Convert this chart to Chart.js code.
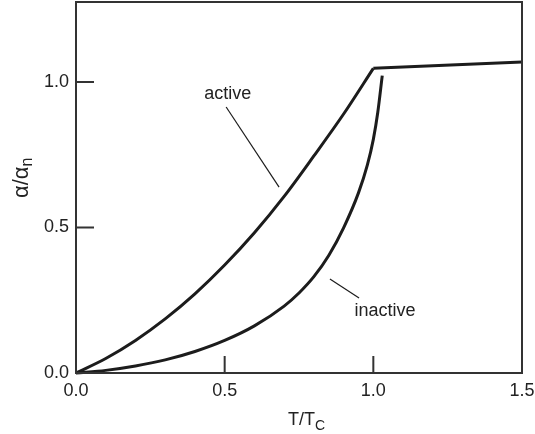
<!DOCTYPE html>
<html>
<head>
<meta charset="utf-8">
<script src="https://cdn.jsdelivr.net/npm/chart.js@4/dist/chart.umd.min.js"></script>
<style>
  html, body { margin: 0; padding: 0; background: #fff; }
  #wrap { position: relative; width: 535px; height: 434px; }
</style>
</head>
<body>
<div id="wrap"><canvas id="c"></canvas></div>
<script>
// reduced temperature T/Tc and absorption ratio α/αn
const xTicks = [0, 0.5, 1.0, 1.5];
const yTicks = [0, 0.5, 1.0];

const activeT = [0, 0.1, 0.2, 0.3, 0.4, 0.5, 0.6, 0.7, 0.8, 0.9, 1.0];
const activeA = [0, 0.05, 0.112, 0.186, 0.272, 0.371, 0.482, 0.607, 0.746, 0.89, 1.047];

const normalT = [1.0, 1.5];
const normalA = [1.047, 1.069];

const inactiveT = [0, 0.1, 0.2, 0.3, 0.4, 0.5, 0.6, 0.7, 0.75, 0.8, 0.85, 0.9, 0.95, 0.98, 1.0, 1.015, 1.03];
const inactiveA = [0, 0.009, 0.024, 0.045, 0.074, 0.112, 0.162, 0.23, 0.275, 0.331, 0.404, 0.499, 0.619, 0.715, 0.803, 0.896, 1.022];

// label leaders
const activeLeaderT = [0.505, 0.683];
const activeLeaderA = [0.914, 0.639];
const inactiveLeaderT = [0.854, 0.952];
const inactiveLeaderA = [0.323, 0.258];

const labelText = ["active", "inactive"];
const labelT = [0.51, 1.039];
const labelA = [0.942, 0.196];

const FONT = '"Liberation Sans", Arial, Helvetica, sans-serif';
const INK = "#1c1c1c";

const pts = (xs, ys) => xs.map((x, i) => ({ x, y: ys[i] }));

function curve(xs, ys, width, smooth) {
  return {
    data: pts(xs, ys),
    borderColor: INK,
    borderWidth: width,
    pointRadius: 0,
    fill: false,
    cubicInterpolationMode: smooth ? "monotone" : "default",
    tension: smooth ? 0.4 : 0,
    borderJoinStyle: "round",
    clip: false,
  };
}

const frame = {
  id: "frame",
  afterDatasetsDraw(chart) {
    const { ctx, chartArea: a, scales } = chart;
    const { x, y } = scales;
    ctx.save();
    ctx.strokeStyle = "#333";
    ctx.lineWidth = 2;
    ctx.strokeRect(a.left, a.top, a.right - a.left, a.bottom - a.top);
    // inward tick marks
    ctx.beginPath();
    for (const v of xTicks) {
      const px = x.getPixelForValue(v);
      ctx.moveTo(px, a.bottom);
      ctx.lineTo(px, a.bottom - 17);
    }
    for (const v of yTicks) {
      const py = y.getPixelForValue(v);
      ctx.moveTo(a.left, py);
      ctx.lineTo(a.left + 18, py);
    }
    ctx.stroke();

    // curve labels
    ctx.fillStyle = "#222";
    ctx.font = `18px ${FONT}`;
    ctx.textAlign = "center";
    ctx.textBaseline = "alphabetic";
    labelText.forEach((t, i) => {
      ctx.fillText(t, x.getPixelForValue(labelT[i]), y.getPixelForValue(labelA[i]));
    });

    // x title  T/T_C
    ctx.textAlign = "left";
    const cx = (a.left + a.right) / 2 - 11;
    ctx.font = `18px ${FONT}`;
    ctx.fillText("T/T", cx, 425);
    const w = ctx.measureText("T/T").width;
    ctx.font = `14px ${FONT}`;
    ctx.fillText("C", cx + w, 430);

    // y title  α/α_n
    ctx.translate(28, 198);
    ctx.rotate(-Math.PI / 2);
    ctx.font = `22px ${FONT}`;
    ctx.fillText("α/α", 0, 0);
    const w2 = ctx.measureText("α/α").width;
    ctx.font = `16px ${FONT}`;
    ctx.fillText("n", w2, 4);
    ctx.restore();
  },
};

new Chart(document.getElementById("c"), {
  type: "line",
  data: {
    datasets: [
      curve(activeT, activeA, 3, true),
      curve(normalT, normalA, 3, false),
      curve(inactiveT, inactiveA, 3, true),
      curve(activeLeaderT, activeLeaderA, 1.2, false),
      curve(inactiveLeaderT, inactiveLeaderA, 1.2, false),
    ],
  },
  options: {
    responsive: true,
    maintainAspectRatio: false,
    animation: false,
    events: [],
    layout: { padding: { left: 0, right: 13, top: 2, bottom: 0 } },
    plugins: { legend: { display: false }, tooltip: { enabled: false } },
    scales: {
      x: {
        type: "linear",
        min: 0,
        max: 1.5,
        afterBuildTicks: (s) => { s.ticks = xTicks.map((value) => ({ value })); },
        afterFit: (s) => { s.height = 61; s.paddingLeft = 0; s.paddingRight = 0; },
        grid: { display: false, drawTicks: false },
        border: { display: false },
        ticks: {
          padding: 7,
          maxRotation: 0,
          color: "#222",
          font: { family: FONT, size: 18 },
          callback: (v) => Number(v).toFixed(1),
        },
      },
      y: {
        type: "linear",
        min: 0,
        max: 1.275,
        afterBuildTicks: (s) => { s.ticks = yTicks.map((value) => ({ value })); },
        afterFit: (s) => { s.width = 76; s.paddingTop = 0; s.paddingBottom = 0; },
        grid: { display: false, drawTicks: false },
        border: { display: false },
        ticks: {
          padding: 7,
          color: "#222",
          font: { family: FONT, size: 18 },
          callback: (v) => Number(v).toFixed(1),
        },
      },
    },
  },
  plugins: [frame],
});
</script>
</body>
</html>
